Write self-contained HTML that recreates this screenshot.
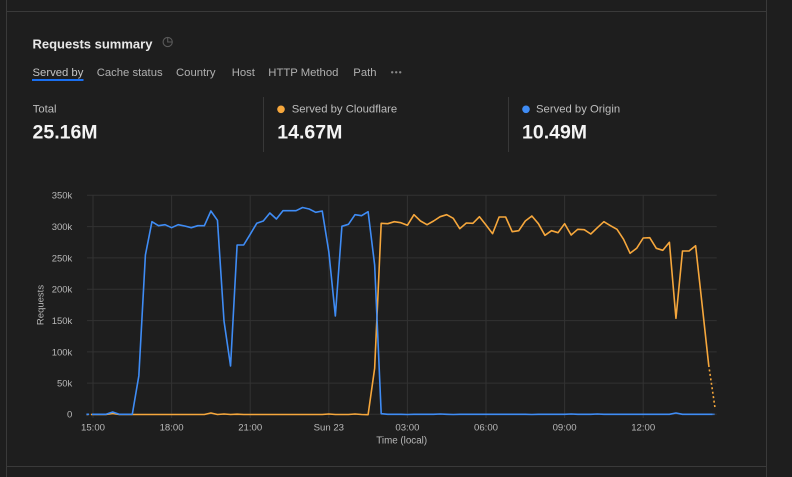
<!DOCTYPE html>
<html>
<head>
<meta charset="utf-8">
<style>
  html,body{margin:0;padding:0;background:#1e1e1e;}
  body{width:792px;height:477px;overflow:hidden;}
  svg{display:block;}
  text{font-family:"Liberation Sans","DejaVu Sans",sans-serif;}
</style>
</head>
<body>
<svg width="792" height="477" viewBox="0 0 792 477" xmlns="http://www.w3.org/2000/svg">
  <rect x="0" y="0" width="792" height="477" fill="#1e1e1e"/>
  <!-- frame lines -->
  <line x1="6.5" y1="0" x2="6.5" y2="477" stroke="#3a3a3a" stroke-width="1"/>
  <line x1="766.5" y1="0" x2="766.5" y2="477" stroke="#3a3a3a" stroke-width="1"/>
  <line x1="7" y1="11.5" x2="766" y2="11.5" stroke="#3a3a3a" stroke-width="1"/>
  <line x1="7" y1="466.5" x2="766" y2="466.5" stroke="#3a3a3a" stroke-width="1"/>

  <!-- title -->
  <text x="32.5" y="48.3" font-size="13" font-weight="bold" fill="#e8e8e8">Requests summary</text>
  <!-- clock/pie icon -->
  <g transform="translate(167.7,42)" fill="none" stroke="#5a5a5a" stroke-width="1.1">
    <circle cx="0" cy="0" r="4.6"/>
    <path d="M0,-4.6 L0,0 L4.6,0"/>
  </g>

  <!-- tabs -->
  <g font-size="11.3" fill="#b0b0b0">
    <text x="32.5" y="76" fill="#c4c4c4">Served by</text>
    <text x="96.7" y="76">Cache status</text>
    <text x="176" y="76">Country</text>
    <text x="231.7" y="76">Host</text>
    <text x="268.3" y="76">HTTP Method</text>
    <text x="353.3" y="76">Path</text>
  </g>
  <g fill="#8a8a8a">
    <circle cx="392.2" cy="72.3" r="1.2"/>
    <circle cx="396.2" cy="72.3" r="1.2"/>
    <circle cx="400.2" cy="72.3" r="1.2"/>
  </g>
  <rect x="32" y="79" width="51.5" height="2" fill="#1a6ff0"/>

  <!-- stats -->
  <text x="32.7" y="112.7" font-size="11.3" fill="#bdbdbd">Total</text>
  <text x="32.5" y="138.3" font-size="19.5" font-weight="bold" fill="#f4f4f4">25.16M</text>

  <line x1="263.5" y1="97" x2="263.5" y2="152" stroke="#383838" stroke-width="1"/>
  <circle cx="281" cy="109.3" r="3.8" fill="#f6a73c"/>
  <text x="291.7" y="112.7" font-size="11.3" fill="#bdbdbd">Served by Cloudflare</text>
  <text x="277.3" y="138.3" font-size="19.5" font-weight="bold" fill="#f4f4f4">14.67M</text>

  <line x1="508.5" y1="97" x2="508.5" y2="152" stroke="#383838" stroke-width="1"/>
  <circle cx="526" cy="109.3" r="3.8" fill="#3f8cf5"/>
  <text x="536" y="112.7" font-size="11.3" fill="#bdbdbd">Served by Origin</text>
  <text x="522" y="138.3" font-size="19.5" font-weight="bold" fill="#f4f4f4">10.49M</text>

  <!-- grid -->
  <g stroke="#323232" stroke-width="1">
    <line x1="87" y1="195.3" x2="716.7" y2="195.3"/>
    <line x1="87" y1="226.6" x2="716.7" y2="226.6"/>
    <line x1="87" y1="257.9" x2="716.7" y2="257.9"/>
    <line x1="87" y1="289.3" x2="716.7" y2="289.3"/>
    <line x1="87" y1="320.6" x2="716.7" y2="320.6"/>
    <line x1="87" y1="351.9" x2="716.7" y2="351.9"/>
    <line x1="87" y1="383.1" x2="716.7" y2="383.1"/>
    <line x1="87" y1="414.3" x2="716.7" y2="414.3"/>
    <line x1="93" y1="195" x2="93" y2="418"/>
    <line x1="171.6" y1="195" x2="171.6" y2="418"/>
    <line x1="250.2" y1="195" x2="250.2" y2="418"/>
    <line x1="328.8" y1="195" x2="328.8" y2="418"/>
    <line x1="407.4" y1="195" x2="407.4" y2="418"/>
    <line x1="486" y1="195" x2="486" y2="418"/>
    <line x1="564.6" y1="195" x2="564.6" y2="418"/>
    <line x1="643.2" y1="195" x2="643.2" y2="418"/>
  </g>

  <!-- y tick labels -->
  <g font-size="9.5" fill="#b8b8b8" text-anchor="end">
    <text x="72.3" y="198.7">350k</text>
    <text x="72.3" y="230">300k</text>
    <text x="72.3" y="261.3">250k</text>
    <text x="72.3" y="292.7">200k</text>
    <text x="72.3" y="324">150k</text>
    <text x="72.3" y="355.3">100k</text>
    <text x="72.3" y="386.5">50k</text>
    <text x="72.3" y="417.7">0</text>
  </g>
  <text transform="translate(43.3,305) rotate(-90)" font-size="9.5" fill="#b8b8b8" text-anchor="middle">Requests</text>

  <!-- x tick labels -->
  <g font-size="9.6" fill="#b8b8b8" text-anchor="middle">
    <text x="93" y="430.3">15:00</text>
    <text x="171.6" y="430.3">18:00</text>
    <text x="250.2" y="430.3">21:00</text>
    <text x="328.8" y="430.3">Sun 23</text>
    <text x="407.4" y="430.3">03:00</text>
    <text x="486" y="430.3">06:00</text>
    <text x="564.6" y="430.3">09:00</text>
    <text x="643.2" y="430.3">12:00</text>
  </g>
  <text x="401.7" y="443.5" font-size="9.8" fill="#b8b8b8" text-anchor="middle">Time (local)</text>

  <!-- Orange series (Cloudflare) -->
  <polyline fill="none" stroke="#f6a73c" stroke-width="1.6" stroke-linejoin="round" points="
93,414.5 99.55,414.5 106.1,414.5 112.65,413.5 119.2,414.5 125.75,414.5 132.3,414.5 138.85,414.5 145.4,414.5 151.95,414.5
158.5,414.5 165.05,414.5 171.6,414.5 178.15,414.5 184.7,414.5 191.25,414.5 197.8,414.5 204.35,414.5 210.9,413 217.45,414.5
224,414 230.55,414.5 237.1,414.2 243.65,414.5 250.2,414.5 256.75,414.5 263.3,414.5 269.85,414.5 276.4,414.5 282.95,414.5
289.5,414.5 296.05,414.5 302.6,414.5 309.15,414.5 315.7,414.5 322.25,414.5 328.8,414 335.35,414.5 341.9,414.5 348.45,414.5
355,414 361.55,414.5 368.1,414.7 374.65,368.3 381.2,223.3 387.75,223.7 394.3,221.7 400.85,222.7 407.4,225.3 413.95,214.7
420.5,221 427.05,224.7 433.6,221 440.15,216.7 446.7,214.7 453.25,218.3 459.8,228.7 466.35,223 472.9,223.3 479.45,216.7
486,225 492.55,233.7 499.1,217 505.65,217 512.2,231.7 518.75,230.7 525.3,221 531.85,216 538.4,223.7 544.95,235.3
551.5,230.7 558.05,232.7 564.6,223.7 571.15,235 577.7,229.3 584.25,229.7 590.8,234 597.35,227.7 603.9,221.7 610.45,225.7
617,229.3 623.55,239.3 630.1,253.3 636.65,248.3 643.2,238 649.75,237.7 656.3,248.3 662.85,250.3 669.4,242.3 675.95,318.3
682.5,251 689.05,251 695.6,245.7 702.15,305 708.7,365"/>
  <polyline fill="none" stroke="#f6a73c" stroke-width="1.6" stroke-dasharray="2,2.5" points="708.7,365 715.25,409.5"/>
  <polyline fill="none" stroke="#f6a73c" stroke-width="1.6" stroke-dasharray="2,2.5" points="86.45,414.5 93,414.5"/>

  <!-- Blue series (Origin) -->
  <polyline fill="none" stroke="#3f8cf5" stroke-width="1.6" stroke-linejoin="round" points="
93,414.3 99.55,414.3 106.1,414.3 112.65,412 119.2,414.3 125.75,414.3 132.3,414.3 138.85,375.7 145.4,255 151.95,221.7
158.5,225.7 165.05,224.7 171.6,227.7 178.15,224.7 184.7,226 191.25,227.7 197.8,225.7 204.35,225.7 210.9,211 217.45,220.3
224,321 230.55,366 237.1,245 243.65,245 250.2,234.3 256.75,223.3 263.3,221 269.85,213 276.4,219 282.95,210.7
289.5,210.7 296.05,210.7 302.6,207.5 309.15,209 315.7,212.3 322.25,211 328.8,251.7 335.35,316 341.9,226.3 348.45,224.3
355,214.7 361.55,215.7 368.1,211.7 374.65,265 381.2,413.7 387.75,414.3 394.3,414.3 400.85,414.3 407.4,414.5 413.95,414.3
420.5,414.3 427.05,414.3 433.6,414.3 440.15,414 446.7,414.3 453.25,414.5 459.8,414.3 466.35,414.3 472.9,414.3 479.45,414.3
486,414.3 492.55,414.3 499.1,414.3 505.65,414.3 512.2,414.3 518.75,414.3 525.3,414.3 531.85,414.5 538.4,414.3 544.95,414.3
551.5,414.3 558.05,414.3 564.6,414.3 571.15,414 577.7,414.3 584.25,414.3 590.8,414.3 597.35,414 603.9,414.3 610.45,414.3
617,414.3 623.55,414.3 630.1,414.3 636.65,414.3 643.2,414.3 649.75,414.3 656.3,414.3 662.85,414.3 669.4,414.3 675.95,413
682.5,414.3 689.05,414.3 695.6,414.3 702.15,414.3 708.7,414.3 712.7,414.3"/>
  <polyline fill="none" stroke="#3f8cf5" stroke-width="1.6" stroke-dasharray="2,2.5" stroke-opacity="0.7" points="712.7,414.3 716,414.3"/>
  <polyline fill="none" stroke="#3f8cf5" stroke-width="1.6" stroke-dasharray="2.5,3" points="86.45,414.3 93,414.3"/>
</svg>
</body>
</html>
